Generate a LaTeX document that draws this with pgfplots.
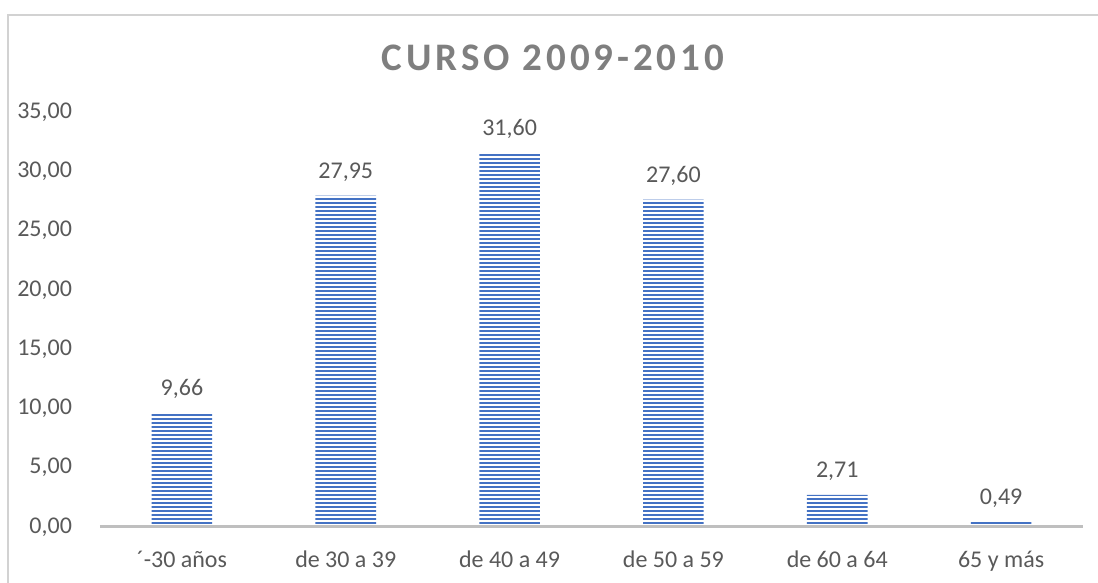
\documentclass[border=0pt]{standalone}
\usepackage{pgfplots}
\pgfplotsset{compat=1.18}
\usepackage{fontspec}
\setmainfont{Carlito}
\newfontfamily\titlefont[LetterSpace=10]{Carlito}
\usetikzlibrary{patterns.meta}
\definecolor{barblue}{HTML}{4472C4}
\definecolor{txt}{HTML}{595959}
\definecolor{ttl}{HTML}{7F7F7F}
\definecolor{axgray}{HTML}{BFBFBF}

\begin{document}
\begin{tikzpicture}
\path[use as bounding box] (-50pt,-28pt) rectangle (499pt,263.5pt);
\draw[axgray!70, line width=0.8pt] (-46pt,-28pt) -- (-46pt,256pt) -- (499pt,256pt);
\node[text=ttl, font=\titlefont\fontsize{19.5}{22}\selectfont\bfseries] at (226.5pt,234.5pt) {CURSO 2009-2010};
\begin{axis}[
  at={(0,0)}, anchor=south west,
  width=491.5pt, height=207.5pt, scale only axis,
  xmin=-0.5, xmax=5.5, ymin=0, ymax=35,
  ytick={0,5,...,35}, xtick={0,1,2,3,4,5},
  xticklabels={´-30 años, de 30 a 39, de 40 a 49, de 50 a 59, de 60 a 64, 65 y más},
  axis line style={draw=none}, major tick length=0pt,
  ticklabel style={font=\fontsize{12}{14}\selectfont, text=txt},
  yticklabel style={xshift=-10.5pt},
  xticklabel style={yshift=-8.5pt},
  /pgf/number format/assume math mode=true,
  yticklabel={\pgfmathprintnumber[fixed, fixed zerofill, precision=2, use comma]{\tick}},
  clip=false,
]
\addplot[ybar, bar width=0.37, draw=none, fill=white,
  postaction={pattern={Lines[angle=0, distance=2pt, line width=1.05pt]}, pattern color=barblue},
  nodes near coords={\pgfmathprintnumber[fixed, fixed zerofill, precision=2, use comma, assume math mode=true]{\pgfplotspointmeta}},
  every node near coord/.append style={font=\fontsize{12}{14}\selectfont, text=txt, yshift=3.5pt}]
  coordinates {(0,9.66)(1,27.95)(2,31.60)(3,27.60)(4,2.71)(5,0.49)};
\draw[axgray, line width=1.5pt] (axis cs:-0.5,0) -- (axis cs:5.5,0);
\end{axis}
\end{tikzpicture}
\end{document}
